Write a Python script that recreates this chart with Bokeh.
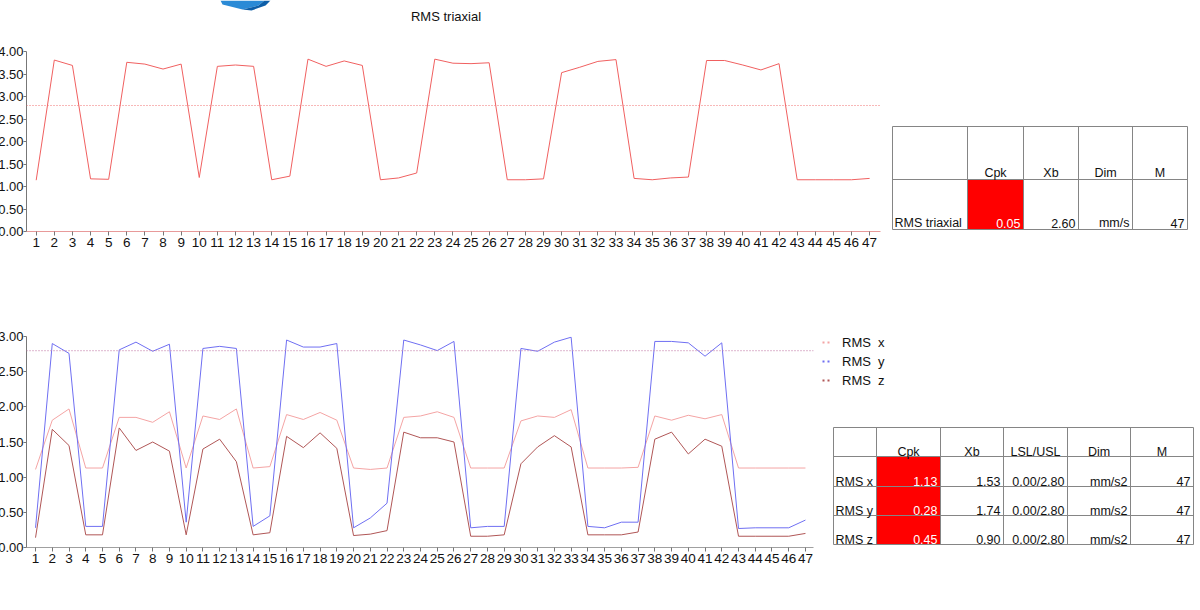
from bokeh.plotting import figure
from bokeh.models import Range1d, FixedTicker, PrintfTickFormatter, Span, Legend, LegendItem
from bokeh.layouts import row, column
from bokeh.embed import file_html
from bokeh.resources import INLINE
from bokeh.core.properties import value

FONT = "Liberation Sans"

# ---------------- data ----------------
points = list(range(1, 48))

rms_triaxial = [1.14, 3.81, 3.69, 1.17, 1.16, 3.76, 3.72, 3.61, 3.72, 1.20,
                3.67, 3.70, 3.67, 1.15, 1.23, 3.83, 3.67, 3.79, 3.69, 1.15,
                1.19, 1.30, 3.83, 3.74, 3.73, 3.75, 1.15, 1.15, 1.17, 3.53,
                3.65, 3.78, 3.82, 1.18, 1.15, 1.19, 1.21, 3.80, 3.80, 3.70,
                3.59, 3.73, 1.15, 1.15, 1.15, 1.15, 1.18]

rms_x = [1.11, 1.81, 1.97, 1.13, 1.13, 1.85, 1.85, 1.78, 1.93, 1.13,
         1.87, 1.82, 1.97, 1.13, 1.15, 1.89, 1.82, 1.92, 1.81, 1.13,
         1.11, 1.13, 1.85, 1.87, 1.93, 1.85, 1.13, 1.13, 1.13, 1.80,
         1.87, 1.85, 1.96, 1.13, 1.13, 1.13, 1.14, 1.87, 1.81, 1.88,
         1.83, 1.89, 1.13, 1.13, 1.13, 1.13, 1.13]

rms_y = [0.28, 2.90, 2.76, 0.30, 0.30, 2.81, 2.92, 2.79, 2.89, 0.36,
         2.83, 2.86, 2.83, 0.30, 0.45, 2.95, 2.85, 2.85, 2.90, 0.28,
         0.42, 0.63, 2.95, 2.88, 2.80, 2.93, 0.28, 0.30, 0.30, 2.83,
         2.79, 2.92, 2.99, 0.30, 0.28, 0.36, 0.36, 2.93, 2.93, 2.91,
         2.72, 2.91, 0.27, 0.28, 0.28, 0.28, 0.39]

rms_z = [0.14, 1.68, 1.45, 0.18, 0.18, 1.70, 1.38, 1.50, 1.37, 0.18,
         1.40, 1.54, 1.22, 0.18, 0.21, 1.58, 1.42, 1.63, 1.41, 0.17,
         0.19, 0.24, 1.64, 1.56, 1.56, 1.50, 0.16, 0.16, 0.18, 1.19,
         1.43, 1.59, 1.43, 0.18, 0.18, 0.18, 0.22, 1.54, 1.64, 1.33,
         1.54, 1.44, 0.16, 0.16, 0.16, 0.16, 0.20]

usl = 2.80
lsl = 0.00
y_ticks_top = [0.0, 0.5, 1.0, 1.5, 2.0, 2.5, 3.0, 3.5, 4.0]
y_ticks_bottom = [0.0, 0.5, 1.0, 1.5, 2.0, 2.5, 3.0]

title_top = "RMS triaxial"
series_labels = ["RMS  x", "RMS  y", "RMS  z"]

top_table_header = ["", "Cpk", "Xb", "Dim", "M"]
top_table_rows = [["RMS triaxial", "0.05", "2.60", "mm/s", "47"]]

bottom_table_header = ["", "Cpk", "Xb", "LSL/USL", "Dim", "M"]
bottom_table_rows = [["RMS  x", "1.13", "1.53", "0.00/2.80", "mm/s2", "47"],
                     ["RMS  y", "0.28", "1.74", "0.00/2.80", "mm/s2", "47"],
                     ["RMS  z", "0.45", "0.90", "0.00/2.80", "mm/s2", "47"]]

# ---------------- styles ----------------
C_TOP = "#f06060"
C_X = "#f4a4a4"
C_Y = "#6f6ff2"
C_Z = "#b05656"
C_RED = "#ff0000"
C_GRID = "#858585"


def style_plot(p, xline_color):
    for ax in (p.xaxis[0], p.yaxis[0]):
        ax.major_label_text_font = FONT
        ax.major_label_text_font_size = "13.5px"
        ax.major_label_text_color = "#111111"
        ax.axis_line_color = "#777777"
        ax.major_tick_line_color = "#777777"
        ax.major_tick_out = 4
        ax.major_tick_in = 0
        ax.minor_tick_line_color = None
        ax.major_label_standoff = 2
    p.yaxis[0].major_label_text_font_size = "13px"
    p.yaxis[0].major_tick_out = 3
    p.yaxis[0].major_label_standoff = 0
    p.xaxis[0].axis_line_color = xline_color
    p.xgrid.visible = False
    p.ygrid.visible = False
    p.outline_line_color = None


def blank_fig(x0, x1, y0, y1, border_top=0, border_bottom=0):
    # frame spans screen coordinates x0..x1, y0..y1 (y downwards)
    f = figure(frame_width=int(x1 - x0), frame_height=int(y1 - y0),
               x_range=Range1d(x0, x1), y_range=Range1d(y1, y0),
               x_axis_type=None, y_axis_type=None,
               min_border_left=0, min_border_right=0,
               min_border_top=border_top, min_border_bottom=border_bottom,
               toolbar_location=None, output_backend="svg")
    f.xgrid.visible = False
    f.ygrid.visible = False
    f.outline_line_color = None
    return f


def draw_table(p, col_x, row_y, header, rows, red_col, fs, hdr_off, row_off):
    nrows = len(rows)
    p.quad(left=[col_x[red_col]] * nrows, right=[col_x[red_col + 1]] * nrows,
           top=[row_y[i + 1] for i in range(nrows)],
           bottom=[row_y[i + 2] for i in range(nrows)],
           fill_color=C_RED, line_color=None)
    p.segment(x0=col_x, x1=col_x, y0=[row_y[0]] * len(col_x), y1=[row_y[-1]] * len(col_x),
              line_color=C_GRID, line_width=1)
    p.segment(x0=[col_x[0]] * len(row_y), x1=[col_x[-1]] * len(row_y), y0=row_y, y1=row_y,
              line_color=C_GRID, line_width=1)
    hx = [(col_x[i] + col_x[i + 1]) / 2 for i in range(len(header))]
    p.text(x=hx, y=[row_y[1] - hdr_off] * len(header), text=header,
           text_align="center", text_baseline="alphabetic",
           text_font=value(FONT), text_font_size=fs, text_color="#111111")
    for r, vals in enumerate(rows):
        yb = row_y[r + 2] - row_off
        p.text(x=[col_x[0] + 2], y=[yb], text=[vals[0]], text_align="left",
               text_baseline="alphabetic", text_font=value(FONT), text_font_size=fs,
               text_color="#111111")
        p.text(x=[col_x[red_col + 1] - 3], y=[yb], text=[vals[red_col]], text_align="right",
               text_baseline="alphabetic", text_font=value(FONT), text_font_size=fs,
               text_color="#ffffff")
        others = [c for c in range(1, len(vals)) if c != red_col]
        p.text(x=[col_x[c + 1] - 3 for c in others], y=[yb] * len(others),
               text=[vals[c] for c in others], text_align="right",
               text_baseline="alphabetic", text_font=value(FONT), text_font_size=fs,
               text_color="#111111")


# ---------------- header (logo + title) ----------------
header = blank_fig(0, 1190, 0, 30)
header.patch(x=[220, 264, 258, 242, 222], y=[0, 0, 5, 9, 4], fill_color="#2a8ad6", line_color=None)
header.patch(x=[242, 258, 264, 270, 265, 251], y=[9, 5, 0, 0, 5, 10], fill_color="#0d5ea8", line_color=None)
header.text(x=[445.5], y=[15.5], text=[title_top], text_align="center", text_baseline="middle",
            text_font=value(FONT), text_font_size="13px", text_color="#111111")

# ---------------- top chart ----------------
top = figure(frame_width=854, frame_height=180,
             x_range=Range1d(0.465, 47.6), y_range=Range1d(0, 4),
             min_border_left=40, min_border_right=5, min_border_top=21, min_border_bottom=30,
             toolbar_location=None, output_backend="svg")
top.line(points, rms_triaxial, line_color=C_TOP, line_width=1)
top.add_layout(Span(location=usl, dimension="width", line_color="#f07070",
                    line_dash="1 2", line_width=1.2))
top.xaxis.ticker = FixedTicker(ticks=points)
top.yaxis.ticker = FixedTicker(ticks=y_ticks_top)
top.yaxis.formatter = PrintfTickFormatter(format="%.2f")
style_plot(top, "#e89a9a")
top.margin = (0, 0, 0, -14)

# frame of the table figure: screen x 885..1198, y 51..231 (same as the top chart frame)
top_tab = blank_fig(885, 1198, 51, 231, border_top=21, border_bottom=30)
draw_table(top_tab, [892, 967, 1023, 1078, 1132, 1187], [126, 179, 229],
           top_table_header, top_table_rows, 1, "12.5px", 6.5, 6.5)

# ---------------- bottom chart ----------------
bot = figure(frame_width=787, frame_height=211,
             x_range=Range1d(0.46, 47.48), y_range=Range1d(0, 3),
             min_border_left=40, min_border_right=5, min_border_top=75, min_border_bottom=30,
             toolbar_location=None, output_backend="svg")
bot.line(points, rms_x, line_color=C_X, line_width=1)
bot.line(points, rms_y, line_color=C_Y, line_width=1)
bot.line(points, rms_z, line_color=C_Z, line_width=1)
bot.add_layout(Span(location=usl, dimension="width", line_color="#c888b0",
                    line_dash="1 2", line_width=1.2))
bot.xaxis.ticker = FixedTicker(ticks=points)
bot.yaxis.ticker = FixedTicker(ticks=y_ticks_bottom)
bot.yaxis.formatter = PrintfTickFormatter(format="%.2f")
style_plot(bot, "#a0a0a0")
bot.margin = (0, 0, 0, -14)

# frame of the side figure: screen x 818..1198, y 336..547 (same as the bottom chart frame)
bot_side = blank_fig(818, 1198, 336, 547, border_top=75, border_bottom=30)
# legend sources: the series themselves (their values lie outside this panel's range, so they stay hidden)
legend_renderers = [bot_side.line(points, s, line_color=c, line_width=2, line_dash="2 3")
                    for s, c in ((rms_x, C_X), (rms_y, C_Y), (rms_z, C_Z))]
legend = Legend(items=[LegendItem(label=lab, renderers=[r])
                       for lab, r in zip(series_labels, legend_renderers)],
                location=(4, 159), padding=0, margin=0, spacing=3,
                glyph_width=10, glyph_height=16, label_height=16, label_standoff=10,
                label_text_font=FONT, label_text_font_size="13px", label_text_color="#111111",
                border_line_color=None, background_fill_alpha=0)
bot_side.add_layout(legend)
draw_table(bot_side, [833, 876, 940, 1003, 1067, 1130, 1193], [427, 456, 486, 515, 544],
           bottom_table_header, bottom_table_rows, 1, "12.5px", 5, 5)

layout = column(header, row(top, top_tab), row(bot, bot_side))

with open("out.html", "w") as f:
    f.write(file_html(layout, INLINE))
